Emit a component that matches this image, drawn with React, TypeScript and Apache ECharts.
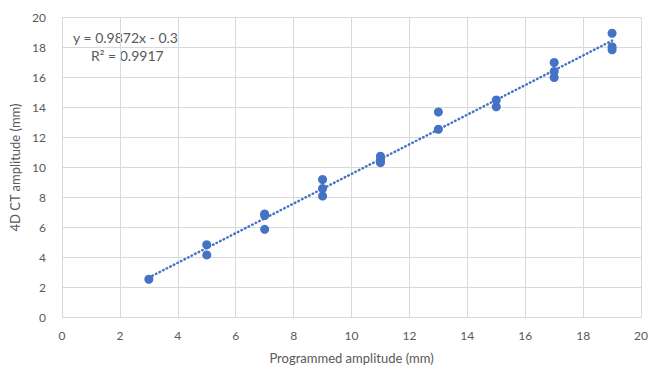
import React, { useEffect, useRef } from "react";
import * as echarts from "echarts";

const programmedX = [3, 5, 5, 7, 7, 7, 9, 9, 9, 11, 11, 11, 13, 13, 15, 15, 17, 17, 17, 19, 19, 19];
const measuredY = [2.55, 4.85, 4.17, 6.9, 6.8, 5.88, 9.2, 8.6, 8.1, 10.75, 10.5, 10.32, 13.7, 12.55, 14.5, 14.05, 17.0, 16.4, 16.0, 18.95, 18.05, 17.85];
const trendSlope = 0.9872;
const trendIntercept = -0.3;
const trendRange = [3, 19];
const equationText = "y = 0.9872x - 0.3";
const r2Text = "R² = 0.9917";

export default function App() {
  const ref = useRef<HTMLDivElement>(null);
  useEffect(() => {
    if (!ref.current) return;
    const chart = echarts.init(ref.current, null, { renderer: "svg" });
    const pts = programmedX.map((x, i) => [x, measuredY[i]]);
    const trend = trendRange.map((x) => [x, trendSlope * x + trendIntercept]);
    const font = "Lato, 'Open Sans', sans-serif";
    chart.setOption({
      animation: false,
      backgroundColor: "#ffffff",
      grid: { left: 62, top: 17.5, right: 9, bottom: 58.5, containLabel: false },
      xAxis: {
        type: "value",
        min: 0,
        max: 20,
        interval: 2,
        name: "Programmed amplitude (mm)",
        nameLocation: "middle",
        nameGap: 34,
        nameTextStyle: { color: "#595959", fontSize: 13, fontFamily: font },
        axisLine: { show: true, lineStyle: { color: "#d9d9d9", width: 1 } },
        axisTick: { show: false },
        axisLabel: { color: "#595959", fontSize: 12, fontFamily: font, margin: 12 },
        splitLine: { show: true, lineStyle: { color: "#d9d9d9", width: 1 } },
      },
      yAxis: {
        type: "value",
        min: 0,
        max: 20,
        interval: 2,
        name: "4D CT amplitude (mm)",
        nameLocation: "middle",
        nameGap: 37,
        nameTextStyle: { color: "#595959", fontSize: 13, fontFamily: font },
        axisLine: { show: false },
        axisTick: { show: false },
        axisLabel: { color: "#595959", fontSize: 12, fontFamily: font, margin: 16 },
        splitLine: { show: true, lineStyle: { color: "#d9d9d9", width: 1 } },
      },
      series: [
        {
          type: "line",
          data: trend,
          symbol: "none",
          lineStyle: { color: "#4472C4", width: 2.5, type: [0.5, 3.5], cap: "round", opacity: 1 },
          z: 2,
        },
        {
          type: "scatter",
          data: pts,
          symbol: "circle",
          symbolSize: 9,
          itemStyle: { color: "#4472C4", opacity: 1 },
          z: 3,
        },
      ],
      graphic: [
        {
          type: "text",
          left: 73,
          top: 30,
          style: { text: equationText, fill: "#595959", fontSize: 14, fontFamily: font },
        },
        {
          type: "text",
          left: 91,
          top: 48,
          style: { text: r2Text, fill: "#595959", fontSize: 14, fontFamily: font },
        },
      ],
    });
    return () => chart.dispose();
  }, []);
  return (
    <div
      ref={ref}
      style={{ position: "fixed", left: 0, top: 0, width: 651, height: 376, background: "#fff" }}
    />
  );
}
